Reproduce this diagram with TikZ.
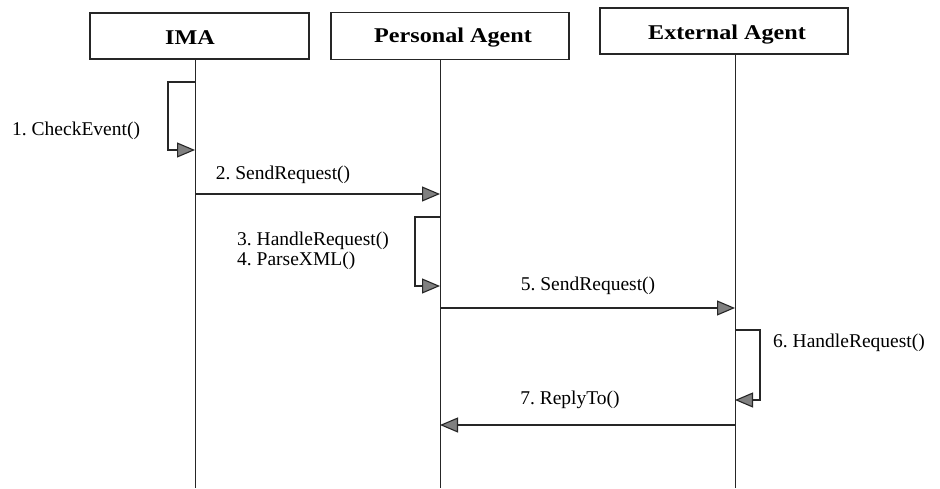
\documentclass[tikz,border=0pt]{standalone}
\usepackage{fontspec}
\setmainfont{Liberation Serif}
\newfontfamily\headfont{Liberation Serif}[FakeStretch=1.15]
\usetikzlibrary{arrows.meta}
\begin{document}
\frenchspacing
\begin{tikzpicture}[x=1pt,y=-1pt,
  header/.style={draw=black!85,line width=1.2pt,inner sep=0pt},
  headtext/.style={inner sep=0pt,
    font=\headfont\fontsize{21}{24}\selectfont\bfseries},
  lifeline/.style={draw=black!85,line width=1pt},
  msg/.style={draw=black!85,line width=1.1pt,
    -{Triangle[length=18pt,width=15pt,fill=black!50]}},
  lbl/.style={font=\fontsize{19.5}{22}\selectfont,inner sep=0pt}]
\useasboundingbox (0,0) rectangle (940,488);

% object boxes and their names
\node[header,minimum width=219pt,minimum height=46pt] (ima) at (199.5,36) {};
\node[header,minimum width=238pt,minimum height=47pt] (pa) at (450,36) {};
\node[header,minimum width=248pt,minimum height=46pt] (ea) at (724,31) {};
\node[headtext] (imaT) at (190,38) {IMA};
\node[headtext] (paT) at (453,38) {Personal Agent};
\node[headtext] (eaT) at (727,35) {External Agent};

% lifelines
\coordinate (imaTop) at (195,59);
\coordinate (imaEnd) at (195,488);
\coordinate (paTop) at (440,59.5);
\coordinate (paEnd) at (440,488);
\coordinate (eaTop) at (735,54);
\coordinate (eaEnd) at (735,488);
\draw[lifeline] (imaTop) -- (imaEnd);
\draw[lifeline] (paTop) -- (paEnd);
\draw[lifeline] (eaTop) -- (eaEnd);

% 1. self call on IMA
\coordinate (m1a) at (195,82);
\coordinate (m1b) at (195,150);
\draw[msg] (m1a) -| (168,116) |- (m1b);
\node[lbl,anchor=west] (t1) at (12,131) {1. CheckEvent()};

% 2. IMA -> Personal Agent
\coordinate (m2a) at (195,194);
\coordinate (m2b) at (440,194);
\draw[msg] (m2a) -- (m2b);
\node[lbl] (t2) at (283,175) {2. SendRequest()};

% 3./4. self call on Personal Agent
\coordinate (m3a) at (440,217);
\coordinate (m3b) at (440,286);
\draw[msg] (m3a) -| (415,250) |- (m3b);
\node[lbl,anchor=west] (t3) at (237,241) {3. HandleRequest()};
\node[lbl,anchor=west] (t4) at (237,261) {4. ParseXML()};

% 5. Personal Agent -> External Agent
\coordinate (m5a) at (440,308);
\coordinate (m5b) at (735,308);
\draw[msg] (m5a) -- (m5b);
\node[lbl] (t5) at (588,286) {5. SendRequest()};

% 6. self call on External Agent
\coordinate (m6a) at (735,330);
\coordinate (m6b) at (735,400);
\draw[msg] (m6a) -| (760,365) |- (m6b);
\node[lbl,anchor=west] (t6) at (773,343) {6. HandleRequest()};

% 7. External Agent -> Personal Agent
\coordinate (m7a) at (735,425);
\coordinate (m7b) at (440,425);
\draw[msg] (m7a) -- (m7b);
\node[lbl] (t7) at (570,400) {7. ReplyTo()};
\end{tikzpicture}
\end{document}
